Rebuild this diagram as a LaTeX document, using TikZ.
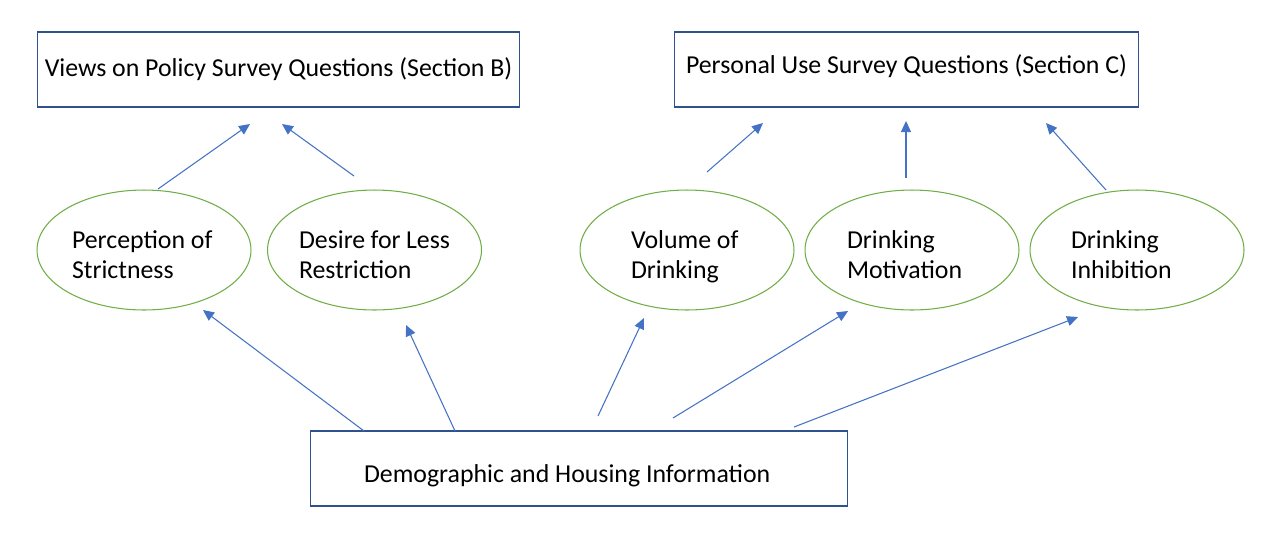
\documentclass[tikz,border=0pt]{standalone}
\usepackage{fontspec}
\setmainfont{Carlito}
\usetikzlibrary{arrows.meta, shapes.geometric, calc}
\definecolor{boxcol}{RGB}{47,82,143}
\definecolor{ellcol}{RGB}{112,173,71}
\definecolor{arrcol}{RGB}{68,114,196}
\tikzset{
  qbox/.style={draw=boxcol, line width=0.6pt, minimum width=#1, minimum height=1.5cm, inner sep=0pt},
  factor/.style={draw=ellcol, ellipse, line width=0.6pt, minimum width=4.28cm, minimum height=2.4cm,
    text width=#1, align=flush left, text height=15pt, text depth=17pt, inner sep=0pt},
  conn/.style={arrcol, line width=0.6pt, -{Triangle[length=2.2mm, width=2mm]}}
}

\begin{document}
\begin{tikzpicture}[
    x=0.02cm, y=-0.02cm,
    font=\fontsize{14.7}{17}\selectfont
  ]

  \useasboundingbox (0,0) rectangle (1277,542);

  % --- survey sections ------------------------------------------------------
  \node[qbox=9.66cm] (policy) at (278.5,69.5) {Views on Policy Survey Questions (Section B)};
  \node[qbox=9.3cm, text height=7.5pt, text depth=3.5pt] (personal) at (906.5,69.5)
    {Personal Use Survey Questions (Section C)};

  % --- latent factors -------------------------------------------------------
  \node[factor=2.88cm] (strict)  at (144,250)    {Perception of\\Strictness};
  \node[factor=3.02cm] (desire)  at (374.5,250)  {Desire for Less\\Restriction};
  \node[factor=2.24cm] (volume)  at (687,250)    {Volume of\\Drinking};
  \node[factor=2.6cm]  (motive)  at (912,250)    {Drinking\\Motivation};
  \node[factor=2.64cm] (inhibit) at (1137,250)   {Drinking\\Inhibition};

  % --- background information -----------------------------------------------
  \node[qbox=10.76cm, text width=8.6cm, align=flush left, text height=15.5pt, text depth=0pt]
    (demo) at (579,468.5) {Demographic and Housing Information};

  % --- arrow ends (arrows float between the shapes) -------------------------
  \coordinate (s1) at (158,189);  \coordinate (t1) at (250,124);
  \coordinate (s2) at (354,176);  \coordinate (t2) at (282,124);
  \coordinate (s3) at (707,172);  \coordinate (t3) at (763,123);
  \coordinate (s4) at (906,178);  \coordinate (t4) at (906,121);
  \coordinate (s5) at (1106,190); \coordinate (t5) at (1046,123);

  \coordinate (d1) at (364,431);  \coordinate (e1) at (203,310);
  \coordinate (d2) at (455,431);  \coordinate (e2) at (406,325);
  \coordinate (d3) at (598,416);  \coordinate (e3) at (644,318);
  \coordinate (d4) at (673,418);  \coordinate (e4) at (848,311);
  \coordinate (d5) at (794,427);  \coordinate (e5) at (1078,317);

  % --- factors to survey sections -------------------------------------------
  \foreach \i in {1,...,5}
    \draw[conn] (s\i) -- (t\i);

  % --- demographics to factors ----------------------------------------------
  \foreach \i in {1,...,5}
    \draw[conn] (d\i) -- (e\i);

\end{tikzpicture}
\end{document}
